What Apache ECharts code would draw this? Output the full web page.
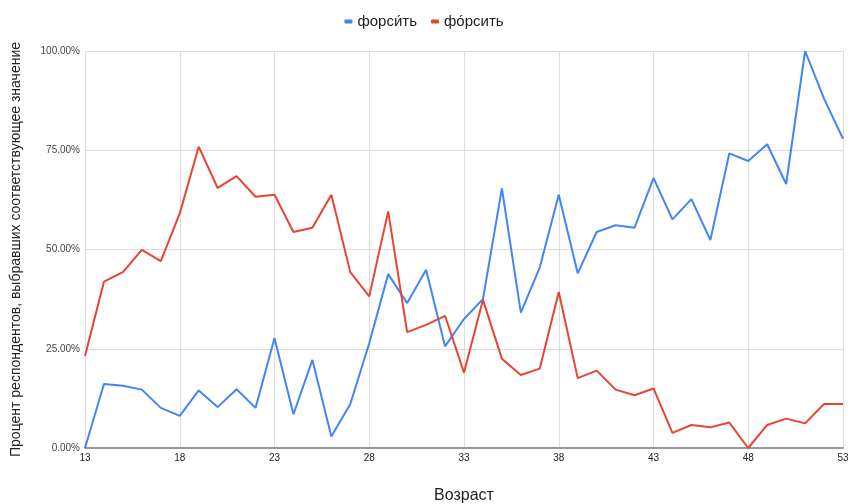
<!DOCTYPE html>
<html>
<head>
<meta charset="utf-8">
<script src="https://cdn.jsdelivr.net/npm/echarts@6/dist/echarts.min.js"></script>
<style>
  html, body { margin: 0; padding: 0; background: #fff; }
  #chart { width: 848px; height: 504px; }
</style>
</head>
<body>
<div id="chart"></div>
<script>
// ages on the x axis
const ages = [13, 14, 15, 16, 17, 18, 19, 20, 21, 22, 23, 24, 25, 26, 27, 28, 29, 30, 31, 32, 33,
  34, 35, 36, 37, 38, 39, 40, 41, 42, 43, 44, 45, 46, 47, 48, 49, 50, 51, 52, 53]

// percent of respondents
const forsit1 = [0, 16.1, 15.7, 14.7, 10.1, 8.1, 14.5, 10.3, 14.8, 10.1, 27.7, 8.5, 22.2, 2.9, 11.1, 26.4,
  43.8, 36.5, 44.9, 25.6, 32.5, 37.5, 65.4, 34.1, 45.5, 63.8, 44.0, 54.4, 56.1, 55.5, 68.0, 57.6,
  62.7, 52.4, 74.2, 72.3, 76.5, 66.5, 100, 88.0, 77.9]
const forsit2 = [23.2, 41.9, 44.3, 49.9, 47.1, 59.1, 75.9, 65.5, 68.5, 63.3, 63.8, 54.4, 55.5, 63.8, 44.3, 38.2,
  59.6, 29.2, 31.0, 33.3, 19.0, 37.3, 22.5, 18.4, 20.0, 39.3, 17.6, 19.5, 14.7, 13.3, 15.0, 3.8,
  5.8, 5.2, 6.4, 0, 5.8, 7.4, 6.2, 11.1, 11.1]

const seriesNames = ['форси́ть', 'фо́рсить']

const chart = echarts.init(document.getElementById('chart'))
chart.setOption({
  animation: false,
  color: ['#4285f4', '#ea4335'],
  textStyle: { fontFamily: 'Arial, "Liberation Sans", sans-serif' },
  legend: {
    top: 9,
    left: 'center',
    itemWidth: 8,
    itemHeight: 4,
    itemGap: 14,
    icon: 'roundRect',
    textStyle: { fontSize: 15, color: '#222' },
    data: seriesNames
  },
  grid: { left: 85, right: 5, top: 51, bottom: 56, outerBoundsMode: 'none' },
  xAxis: {
    type: 'category',
    data: ages,
    boundaryGap: false,
    name: 'Возраст',
    nameLocation: 'middle',
    nameGap: 40,
    nameTextStyle: { fontSize: 16, color: '#222' },
    axisLine: { lineStyle: { color: '#999', width: 2 } },
    axisTick: { show: false },
    axisLabel: { interval: 4, fontSize: 10, color: '#222', margin: 5 },
    splitLine: { show: true, interval: 4, lineStyle: { color: '#ddd', width: 1 } }
  },
  yAxis: {
    type: 'value',
    min: 0,
    max: 100,
    interval: 25,
    name: 'Процент респондентов, выбравших соответствующее значение',
    nameLocation: 'middle',
    nameGap: 62,
    nameTextStyle: { fontSize: 14, color: '#222' },
    axisLine: { show: false },
    axisTick: { show: false },
    axisLabel: {
      fontSize: 10,
      color: '#444',
      margin: 5,
      formatter: v => v.toFixed(2) + '%'
    },
    splitLine: { lineStyle: { color: '#ddd', width: 1 } }
  },
  series: [
    {
      name: seriesNames[0],
      type: 'line',
      data: forsit1,
      symbol: 'none',
      lineStyle: { width: 2 }
    },
    {
      name: seriesNames[1],
      type: 'line',
      data: forsit2,
      symbol: 'none',
      lineStyle: { width: 2 }
    }
  ]
})
</script>
</body>
</html>
